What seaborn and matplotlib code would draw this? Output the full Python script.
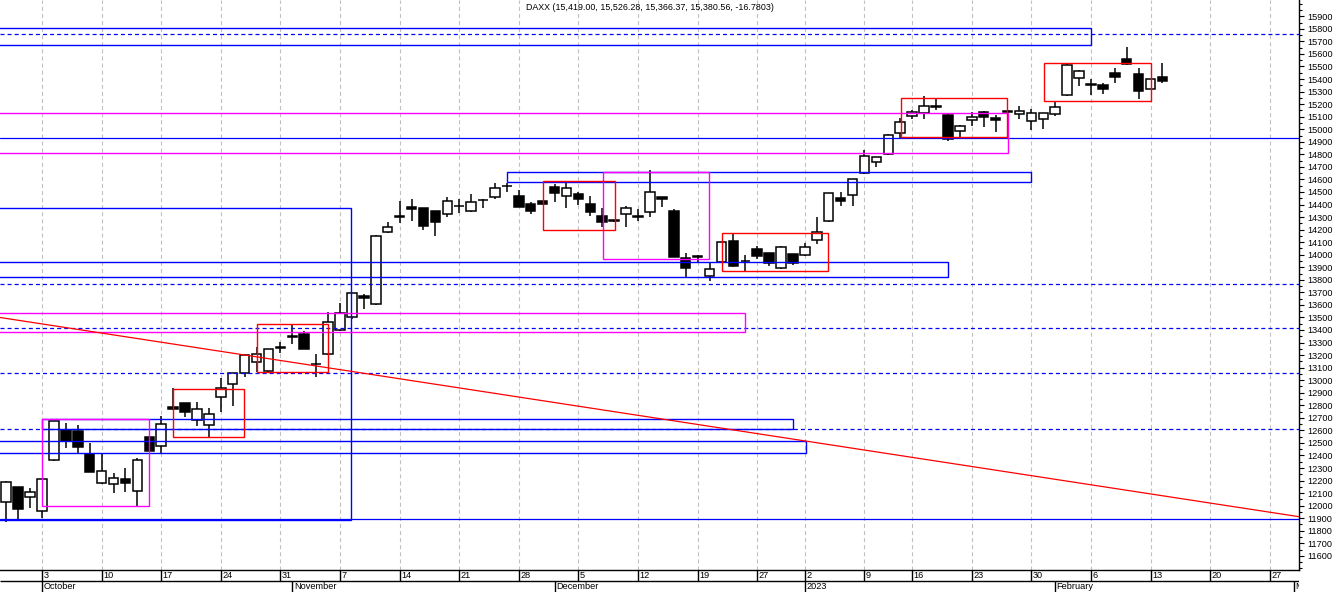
import numpy as np
import pandas as pd
import matplotlib
matplotlib.use("Agg")
import matplotlib.pyplot as plt
import seaborn as sns
from matplotlib.patches import Rectangle
from matplotlib.ticker import FixedLocator, MultipleLocator, FormatStrFormatter

sns.set_theme(style="white")
plt.rcParams["font.family"] = ["Liberation Sans", "DejaVu Sans"]
plt.rcParams["lines.scale_dashes"] = False

# ---------------- data ----------------
title = "DAXX (15,419.00, 15,526.28, 15,366.37, 15,380.56, -16.7803)"

day = list(range(-3, 95))  # trading-day index, 0 = 3 Oct 2022
opens = [12027, 12146, 12066, 11955, 12361, 12603, 12592, 12412, 12178, 12170,
         12210, 12114, 12545, 12473, 12784, 12816, 12683, 12640, 12868, 12967,
         13055, 13147, 13076, 13262, 13345, 13368, 13131, 13206, 13400, 13506,
         13671, 13605, 14179, 14298, 14380, 14370, 14348, 14322, 14386, 14351,
         14434, 14458, 14546, 14468, 14402, 14428, 14537, 14468, 14484, 14404,
         14309, 14276, 14322, 14309, 14343, 14458, 14348, 13971, 13990, 13830,
         13940, 14109, 13952, 14043, 14011, 13892, 14003, 13995, 14117, 14266,
         14450, 14473, 14649, 14739, 14800, 14968, 15108, 15127, 15178, 15111,
         14986, 15074, 15135, 15087, 15145, 15121, 15068, 15079, 15119, 15270,
         15406, 15356, 15350, 15446, 15557, 15440, 15323, 15419.00]
highs = [12196, 12150, 12138, 12215, 12675, 12656, 12640, 12497, 12412, 12258,
         12300, 12377, 12550, 12715, 12935, 12820, 12824, 12776, 13015, 13060,
         13200, 13267, 13250, 13307, 13440, 13394, 13206, 13541, 13617, 13695,
         13684, 14157, 14263, 14428, 14442, 14375, 14352, 14462, 14442, 14484,
         14440, 14569, 14569, 14516, 14422, 14432, 14564, 14574, 14502, 14468,
         14370, 14280, 14388, 14362, 14675, 14460, 14362, 14011, 13998, 13932,
         14102, 14171, 13998, 14069, 14015, 14068, 14007, 14091, 14298, 14493,
         14502, 14607, 14834, 14780, 14960, 15087, 15153, 15265, 15241, 15132,
         15032, 15140, 15145, 15113, 15150, 15185, 15161, 15131, 15215, 15520,
         15470, 15398, 15366, 15486, 15653, 15486, 15402, 15526.28]
lows = [11867, 11880, 11979, 11904, 12358, 12462, 12422, 12268, 12175, 12103,
        12111, 11997, 12435, 12412, 12765, 12709, 12637, 12550, 12749, 12797,
        13028, 13068, 13060, 13219, 13288, 13250, 13028, 13200, 13395, 13488,
        13565, 13600, 14175, 14250, 14271, 14197, 14152, 14303, 14330, 14343,
        14370, 14444, 14502, 14380, 14322, 14398, 14422, 14375, 14396, 14311,
        14223, 14262, 14223, 14271, 14303, 14383, 13980, 13825, 13931, 13793,
        13937, 13900, 13873, 13966, 13910, 13884, 13918, 13990, 14085, 14262,
        14388, 14391, 14645, 14697, 14796, 14933, 15082, 15082, 15153, 14909,
        14940, 15026, 15020, 14976, 15130, 15079, 14994, 15000, 15108, 15266,
        15345, 15273, 15278, 15371, 15514, 15241, 15319, 15366.37]
closes = [12186, 11976, 12111, 12210, 12672, 12515, 12470, 12270, 12274, 12223,
          12178, 12361, 12438, 12648, 12768, 12744, 12768, 12728, 12935, 13055,
          13198, 13206, 13246, 13258, 13350, 13251, 13128, 13461, 13533, 13692,
          13653, 14149, 14223, 14311, 14367, 14231, 14263, 14430, 14390, 14422,
          14438, 14534, 14550, 14383, 14351, 14402, 14494, 14529, 14446, 14343,
          14263, 14265, 14370, 14298, 14497, 14446, 13984, 13892, 13985, 13884,
          14099, 13912, 13948, 13992, 13932, 14064, 13932, 14064, 14179, 14489,
          14430, 14603, 14789, 14776, 14952, 15055, 15135, 15183, 15182, 14920,
          15028, 15100, 15095, 15076, 15135, 15148, 15127, 15127, 15180, 15510,
          15467, 15360, 15318, 15414, 15518, 15307, 15398, 15380.56]

week_pos = [0, 5, 10, 15, 20, 25, 30, 35, 40, 45, 50, 55, 60, 64, 69, 73, 78, 83, 88, 93, 98, 103]
week_labels = ["3", "10", "17", "24", "31", "7", "14", "21", "28", "5", "12", "19", "27",
               "2", "9", "16", "23", "30", "6", "13", "20", "27"]
month_pos = [0, 21, 43, 64, 85, 105.05]
month_labels = ["October", "November", "December", "2023", "February", "M"]

# horizontal reference lines (price, style)
hline_price = [15760, 14928, 13770, 13418, 13055, 12608, 11891]
hline_style = ["dash", "solid", "dash", "dash", "dash", "dash", "solid"]

# annotation boxes: left day, right day, low price, high price, colour
box_left = [-5, -5, -5, 39.04, 0.03, -5, -5, -5, -5, 47.09, -5, 0.03, 72.09, 84.09, 42.06, 57.07, 18.06, 11.02]
box_right = [88.0, 76.0, 25.95, 82.97, 63.0, 64.07, 81.0, 58.98, -5, 55.98, -5, 9.0, 80.98, 93.01, 48.04, 65.96, 24.02, 16.97]
box_low = [15669, 13820, 11886, 14577, 12608, 12417, 14808, 13382, 0, 13966, 0, 11995, 14940, 15227, 14199, 13868, 13063, 12545]
box_high = [15804, 13940, 14370, 14657, 12688, 12513, 15127, 13533, 0, 14657, 0, 12688, 15247, 15525, 14585, 14171, 13445, 12927]
box_color = ["blue", "blue", "blue", "blue", "blue", "blue", "magenta", "magenta", "none", "magenta",
             "none", "magenta", "red", "red", "red", "red", "red", "red"]

trend_x = [-3.55, 105.45]
trend_y = [13500, 11912]

# ---------------- figure ----------------
W, H = 1336, 592
fig = plt.figure(figsize=(W / 100, H / 100), dpi=100, facecolor="white")
axis_px = 1298.5
ax = fig.add_axes([0, 22 / H, axis_px / W, 570 / H])
axb = fig.add_axes([0, 0, axis_px / W, 22 / H])

x0 = (0 - 42) / 11.92
x1 = (axis_px - 42) / 11.92
ax.set_xlim(x0, x1)
ax.set_ylim(16030 - 7.97 * 570, 16030)
ax.set_facecolor("white")

BLUE = "#0000ff"
MAG = "#ff00ff"
RED = "#ff0000"
cmap = {"blue": BLUE, "magenta": MAG, "red": RED}
DASH = (0, (2.9, 2.2))

# grid (vertical dashed)
ax.set_xticks(week_pos)
ax.tick_params(axis="x", length=0, labelbottom=False)
ax.grid(True, axis="x", color="#c0c0c0", linestyle=DASH, linewidth=0.8, zorder=0)
ax.grid(False, axis="y")

# candles
df = pd.DataFrame({"day": day, "open": opens, "high": highs, "low": lows, "close": closes})
up = df["close"] >= df["open"]
ax.vlines(df["day"], df["low"], df["high"], color="black", linewidth=1.1, zorder=2)
ax.bar(df["day"], df["close"] - df["open"], bottom=df["open"], width=0.8,
       color=np.where(up, "white", "black"), edgecolor="black", linewidth=1.1, zorder=2.5)

# horizontal lines
for p, s in zip(hline_price, hline_style):
    ax.axhline(p, color=BLUE, linewidth=0.9, linestyle=DASH if s == "dash" else "-", zorder=3)

# boxes
for l, r, lo, hi, c in zip(box_left, box_right, box_low, box_high, box_color):
    if c == "none":
        continue
    ax.add_patch(Rectangle((l, lo), r - l, hi - lo, fill=False, edgecolor=cmap[c],
                           linewidth=1.0, zorder=3.2 if c == "blue" else (3.4 if c == "magenta" else 3.6)))

# trend line
sns.lineplot(x=trend_x, y=trend_y, ax=ax, color=RED, linewidth=0.9, zorder=4)

# spines / y axis
for s in ["top", "left"]:
    ax.spines[s].set_visible(False)
for s in ["right", "bottom"]:
    ax.spines[s].set_visible(True)
    ax.spines[s].set_color("black")
    ax.spines[s].set_linewidth(1.0)
ax.yaxis.tick_right()
ax.yaxis.set_major_locator(FixedLocator(list(range(11600, 16000, 100))))
ax.yaxis.set_minor_locator(MultipleLocator(50))
ax.yaxis.set_major_formatter(FormatStrFormatter("%d"))
ax.tick_params(axis="y", which="major", right=True, left=False, length=3.6, width=0.8,
               pad=3.0, labelsize=6.6, colors="black", direction="out")
ax.tick_params(axis="y", which="minor", right=True, left=False, length=2.0, width=0.8,
               colors="black", direction="out")
ax.set_xlabel("")
ax.set_ylabel("")

# bottom date band
axb.set_xlim(x0, x1)
axb.set_ylim(22, 0)
axb.axis("off")
axb.hlines(11, x0, x1, color="black", linewidth=1.0)
axb.vlines(week_pos, 0, 11, color="black", linewidth=1.0)
axb.vlines(month_pos, 11, 22, color="black", linewidth=1.0)
for p, t in zip(week_pos, week_labels):
    axb.text(p + 0.12, 5.8, t, ha="left", va="center", fontsize=6.6, color="black", clip_on=True)
for p, t in zip(month_pos, month_labels):
    axb.text(p + 0.12, 16.8, t, ha="left", va="center", fontsize=6.6, color="black", clip_on=True)

fig.text(650 / W, 1 - 7 / H, title, ha="center", va="center", fontsize=6.4, color="black")

fig.savefig("out.png", dpi=100, facecolor="white")
